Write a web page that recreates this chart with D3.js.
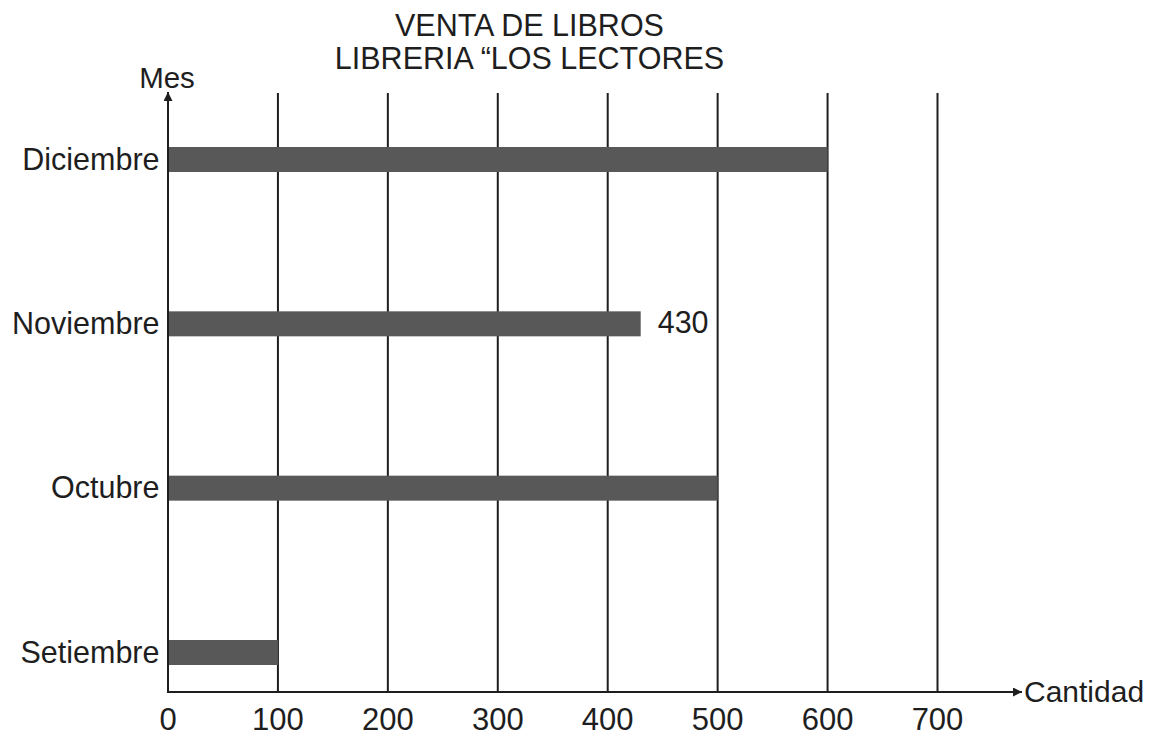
<!DOCTYPE html>
<html>
<head>
<meta charset="utf-8">
<script src="https://cdn.jsdelivr.net/npm/d3@7"></script>
<style>
  html, body { margin: 0; padding: 0; background: #fff; }
  svg { display: block; font-family: "Liberation Sans", Arial, Helvetica, sans-serif; }
</style>
</head>
<body>
<svg id="chart" width="1157" height="737"></svg>
<script>
// Book sales by month
const months = ["Setiembre", "Octubre", "Noviembre", "Diciembre"];
const sales = [100, 500, 430, 600];
const tickValues = [0, 100, 200, 300, 400, 500, 600, 700];
const labelledMonths = ["Noviembre"];
const titleLines = ["VENTA DE LIBROS", "LIBRERIA \u201cLOS LECTORES"];
const yAxisTitle = "Mes";
const xAxisTitle = "Cantidad";

const svg = d3.select("#chart");
const ink = "#1e1e1e";
const barColor = "#585858";

const x0 = 168, axisY = 692, gridTop = 93;
const x = d3.scaleLinear().domain([0, 700]).range([x0, 937.5]);
const y = d3.scalePoint().domain(months).range([652.5, 159.5]);
const barH = 25;

// Title
svg.selectAll("text.title")
  .data(titleLines)
  .join("text")
  .attr("class", "title")
  .attr("x", 529.5)
  .attr("y", (d, i) => 35.5 + i * 33)
  .attr("text-anchor", "middle")
  .attr("font-size", 30.5)
  .attr("fill", ink)
  .text(d => d);

// Vertical grid lines
svg.selectAll("line.grid")
  .data(tickValues.filter(v => v > 0))
  .join("line")
  .attr("class", "grid")
  .attr("x1", d => x(d)).attr("x2", d => x(d))
  .attr("y1", gridTop).attr("y2", axisY)
  .attr("stroke", ink).attr("stroke-width", 2);

// Bars
svg.selectAll("rect.bar")
  .data(months.map((m, i) => ({ m, v: sales[i] })))
  .join("rect")
  .attr("class", "bar")
  .attr("x", x(0))
  .attr("y", d => y(d.m) - barH / 2)
  .attr("width", d => x(d.v) - x(0))
  .attr("height", barH)
  .attr("fill", barColor);

// Value label
svg.selectAll("text.value")
  .data(months.map((m, i) => ({ m, v: sales[i] })).filter(d => labelledMonths.includes(d.m)))
  .join("text")
  .attr("class", "value")
  .attr("x", d => x(d.v) + 17)
  .attr("y", d => y(d.m) + 9.5)
  .attr("font-size", 30.5)
  .attr("fill", ink)
  .text(d => d.v);

// Arrow marker for the axes
svg.append("defs").append("marker")
  .attr("id", "arrow")
  .attr("viewBox", "0 0 10 10")
  .attr("refX", 10).attr("refY", 5)
  .attr("markerWidth", 5).attr("markerHeight", 4.5)
  .attr("markerUnits", "strokeWidth")
  .attr("orient", "auto")
  .append("path")
  .attr("d", "M0,0 L10,5 L0,10 z")
  .attr("fill", ink);

// Axes lines
svg.append("line")
  .attr("x1", x0).attr("y1", axisY)
  .attr("x2", x0).attr("y2", 92)
  .attr("stroke", ink).attr("stroke-width", 2)
  .attr("marker-end", "url(#arrow)");
svg.append("line")
  .attr("x1", x0 - 1).attr("y1", axisY)
  .attr("x2", 1022).attr("y2", axisY)
  .attr("stroke", ink).attr("stroke-width", 2)
  .attr("marker-end", "url(#arrow)");

// X tick labels
svg.selectAll("text.tick")
  .data(tickValues)
  .join("text")
  .attr("class", "tick")
  .attr("x", d => x(d))
  .attr("y", 729.5)
  .attr("text-anchor", "middle")
  .attr("font-size", 31)
  .attr("fill", ink)
  .text(d => d);

// Category labels
svg.selectAll("text.cat")
  .data(months)
  .join("text")
  .attr("class", "cat")
  .attr("x", 159.5)
  .attr("y", d => y(d) + 10)
  .attr("text-anchor", "end")
  .attr("font-size", 30.5)
  .attr("fill", ink)
  .text(d => d);

// Axis titles
svg.append("text")
  .attr("x", 167).attr("y", 88)
  .attr("text-anchor", "middle")
  .attr("font-size", 29.5)
  .attr("fill", ink)
  .text(yAxisTitle);
svg.append("text")
  .attr("x", 1024).attr("y", 701.5)
  .attr("font-size", 30)
  .attr("fill", ink)
  .text(xAxisTitle);
</script>
</body>
</html>
